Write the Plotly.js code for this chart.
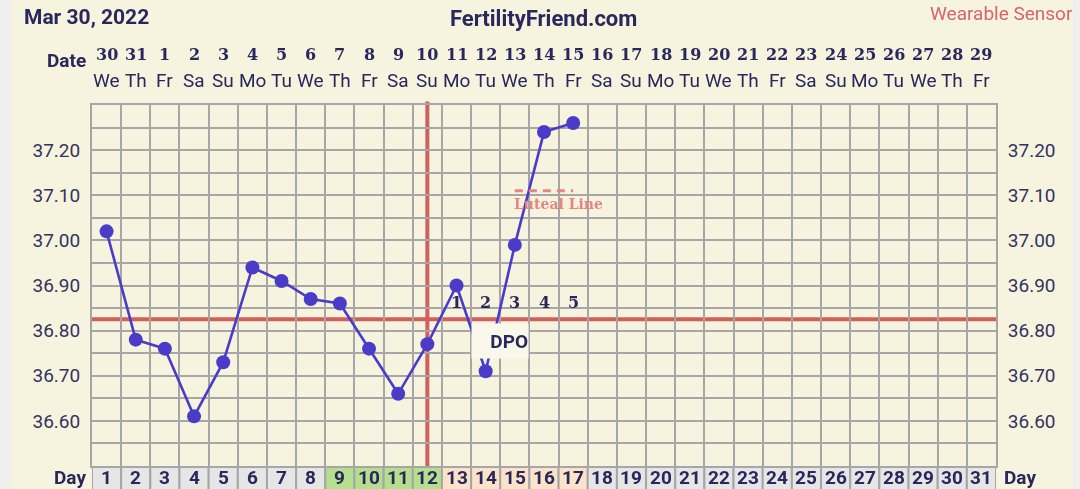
<!DOCTYPE html>
<html><head><meta charset="utf-8">
<script src="https://cdn.plot.ly/plotly-3.0.1.min.js"></script>
<style>html,body{margin:0;padding:0;background:#efefef;overflow:hidden}
#chart{position:absolute;left:11px;top:0;width:1062px;height:489px}</style>
</head><body><div id="chart"></div>
<script>
// ---- data ----
const cycleDays = [1,2,3,4,5,6,7,8,9,10,11,12,13,14,15,16,17,18,19,20,21,22,23,24,25,26,27,28,29,30,31];
const dateLabels = ['30','31','1','2','3','4','5','6','7','8','9','10','11','12','13','14','15','16','17','18','19','20','21','22','23','24','25','26','27','28','29'];
const weekdayLabels = ['We','Th','Fr','Sa','Su','Mo','Tu','We','Th','Fr','Sa','Su','Mo','Tu','We','Th','Fr','Sa','Su','Mo','Tu','We','Th','Fr','Sa','Su','Mo','Tu','We','Th','Fr'];
const phases = ['n','n','n','n','n','n','n','n','f','f','f','f','l','l','l','l','l','n','n','n','n','n','n','n','n','n','n','n','n','n','n'];
const tempDays = [1,2,3,4,5,6,7,8,9,10,11,12,13,14,15,16,17];
const temps = [37.02,36.78,36.76,36.61,36.73,36.94,36.91,36.87,36.86,36.76,36.66,36.77,36.90,36.71,36.99,37.24,37.26];
const coverline = 36.825;
const ovulationDay = 12;
const lutealDays = [15,17];
const lutealTemps = [37.11,37.11];
const dpoDays = [13,14,15,16,17];
const dpoLabels = ['1','2','3','4','5'];
const yTickVals = [36.50,36.55,36.60,36.65,36.70,36.75,36.80,36.85,36.90,36.95,37.00,37.05,37.10,37.15,37.20,37.25,37.30];
const yTickText = ['','','36.60','','36.70','','36.80','','36.90','','37.00','','37.10','','37.20','',''];

// ---- styling ----
const NAVY = '#29275c';
const GRID = '#a6a6a6';
const RED = '#d0605e';
const BLUE = '#4a3cc8';
const SERIF = 'DejaVu Serif';
const phaseColor = {n:'#e6e6e6', f:'#b5df8f', l:'#fbe2c8'};
const DIVL = 11, ML = 81, MR = 77, MT = 105, MB = 23, W = 1062, H = 489;
const PW = W - ML - MR, PH = H - MT - MB;
const px = x => (x - DIVL - ML) / PW;
const py = y => (H - MB - y) / PH;

const traces = [
  {x: tempDays, y: temps, type:'scatter', mode:'lines+markers',
   line:{color:BLUE, width:2.6}, marker:{color:BLUE, size:14}, hoverinfo:'skip', cliponaxis:false},
  {x: lutealDays, y: lutealTemps, type:'scatter', mode:'lines',
   line:{color:'#e88484', width:3, dash:'8px,6px'}, hoverinfo:'skip'},
  {x: tempDays, y: temps, yaxis:'y2', type:'scatter', mode:'markers', opacity:0, hoverinfo:'skip'}
];

const shapes = [
  {type:'line', layer:'between', xref:'paper', x0:0, x1:1, yref:'y', y0:coverline, y1:coverline, line:{color:RED, width:4}},
  {type:'line', layer:'between', xref:'x', x0:ovulationDay, x1:ovulationDay, yref:'paper', y0:0, y1:1.01, line:{color:RED, width:4}}
];
cycleDays.forEach((d,i) => {
  shapes.push({type:'rect', xref:'x', x0:d-0.5, x1:d+0.5, yref:'paper', ysizemode:'pixel', yanchor:0, y0:-1, y1:-40,
    fillcolor:phaseColor[phases[i]], line:{color:GRID, width:2}, layer:'above'});
});

const annotations = [];
const txt = (o) => annotations.push(Object.assign({showarrow:false}, o));
txt({text:'Mar 30, 2022', xref:'paper', x:px(22), xanchor:'left', yref:'paper', y:py(17), yanchor:'middle',
  font:{family:'Roboto', size:21, color:NAVY, weight:700}});
txt({text:'FertilityFriend.com', xref:'paper', x:px(543), xanchor:'center', yref:'paper', y:py(18), yanchor:'middle',
  font:{family:'Roboto', size:22, color:NAVY, weight:700}});
txt({text:'Wearable Sensor', xref:'paper', x:px(1075), xanchor:'right', yref:'paper', y:py(14), yanchor:'middle',
  font:{family:'Roboto', size:19, color:'#d9636a'}});
txt({text:'Date', xref:'paper', x:px(88), xanchor:'right', yref:'paper', y:py(60), yanchor:'middle',
  font:{family:'Roboto', size:19, color:NAVY, weight:700}});
txt({text:'Day', xref:'paper', x:px(88), xanchor:'right', yref:'paper', y:py(477), yanchor:'middle',
  font:{family:'Roboto', size:19, color:NAVY, weight:700}});
txt({text:'Day', xref:'paper', x:px(1002), xanchor:'left', yref:'paper', y:py(477), yanchor:'middle',
  font:{family:'Roboto', size:19, color:NAVY, weight:700}});
cycleDays.forEach((d,i) => {
  txt({text:dateLabels[i], xref:'x', x:d, xanchor:'center', yref:'paper', y:py(54), yanchor:'middle',
    font:{family:SERIF, size:16, color:NAVY, weight:700}});
  txt({text:weekdayLabels[i], xref:'x', x:d, xanchor:'center', yref:'paper', y:py(81), yanchor:'middle',
    font:{family:'Roboto', size:19, color:NAVY}});
  txt({text:String(d), xref:'x', x:d, xanchor:'center', yref:'paper', y:py(477), yanchor:'middle',
    font:{family:'Roboto', size:19, color:NAVY, weight:700}});
});
dpoDays.forEach((d,i) => {
  txt({text:dpoLabels[i], xref:'x', x:d, xanchor:'center', yref:'paper', y:py(302), yanchor:'middle',
    font:{family:SERIF, size:16, color:NAVY, weight:700}});
});
txt({text:'DPO', xref:'x', x:(dpoDays[1]+dpoDays[2])/2, xanchor:'center', yref:'paper', y:py(341), yanchor:'middle',
  width:56, height:34, align:'right', bgcolor:'#faf8ea', borderpad:0,
  font:{family:'Roboto', size:19, color:NAVY, weight:700}});
txt({text:'Luteal Line', xref:'x', x:(lutealDays[0]+lutealDays[1])/2 + 0.5, xanchor:'center', yref:'paper', y:py(204), yanchor:'middle',
  font:{family:SERIF, size:14, color:'#e88484', weight:700}});

const yax = {range:[36.50,37.30], tickmode:'array', tickvals:yTickVals, ticktext:yTickText,
  showgrid:true, gridcolor:GRID, gridwidth:2, zeroline:false, showline:true, linecolor:GRID, linewidth:2,
  ticks:'', ticklabelstandoff:6, tickfont:{family:'Roboto', size:19, color:'#34325f'}, fixedrange:true};

const layout = {
  width:W, height:H, margin:{l:ML, r:MR, t:MT, b:MB, pad:0},
  paper_bgcolor:'#f6f4df', plot_bgcolor:'#f6f4df', showlegend:false,
  xaxis:{range:[0.5,31.5], tickmode:'linear', tick0:0.5, dtick:1, showticklabels:false, ticks:'',
    showgrid:true, gridcolor:GRID, gridwidth:2, zeroline:false, showline:true, mirror:true, linecolor:GRID, linewidth:2, fixedrange:true},
  yaxis:Object.assign({side:'left'}, yax),
  yaxis2:Object.assign({side:'right', overlaying:'y', showgrid:false}, yax),
  shapes, annotations
};
Plotly.newPlot('chart', traces, layout, {staticPlot:true, displayModeBar:false});
</script></body></html>
